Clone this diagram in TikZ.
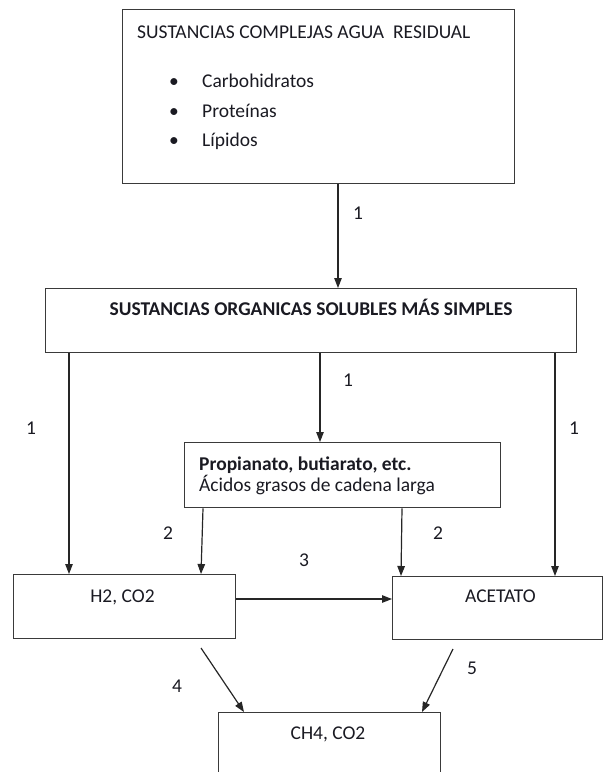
\documentclass[tikz,border=0pt]{standalone}
\usepackage{fontspec}
\setmainfont{Carlito}
\usetikzlibrary{arrows.meta}
\definecolor{boxline}{HTML}{3A3A3A}
\definecolor{arrline}{HTML}{262626}
\definecolor{ink}{HTML}{1A1A22}
\begin{document}
\begin{tikzpicture}[x=1pt,y=-1pt,
  every node/.style={font=\fontsize{19.5}{23}\selectfont, text=ink},
  box/.style={draw=boxline, line width=1.4pt, rectangle, inner sep=0pt, anchor=north west},
  txt/.style={inner sep=0pt},
  lbl/.style={inner sep=0pt, anchor=base},
  arr/.style={draw=arrline, line width=1.2pt, -{Triangle[length=10pt,width=7.5pt]}}
]
\useasboundingbox (0,0) rectangle (603,772);
\clip (0,0) rectangle (603,772);

% boxes
\node[box, minimum width=392pt, minimum height=174pt] (complex) at (122,9) {};
\node[box, minimum width=531pt, minimum height=64pt]  (simple)  at (45,288) {};
\node[box, minimum width=316pt, minimum height=65pt]  (acids)   at (184,442) {};
\node[box, minimum width=222pt, minimum height=64pt]  (h2)      at (13,574) {};
\node[box, minimum width=210pt, minimum height=63pt]  (acetate) at (392,576) {};
\node[box, minimum width=222pt, minimum height=100pt] (ch4)     at (218,712) {};

% box texts
\node[txt, anchor=base west] (tcomplex) at (137,38.5) {SUSTANCIAS COMPLEJAS AGUA\ \ RESIDUAL};
\node[txt, anchor=base] (b1) at (174,87) {•};
\node[txt, anchor=base] (b2) at (174,117) {•};
\node[txt, anchor=base] (b3) at (174,146) {•};
\node[txt, anchor=base west] (i1) at (202,87) {Carbohidratos};
\node[txt, anchor=base west] (i2) at (202,117) {Proteínas};
\node[txt, anchor=base west] (i3) at (202,146) {Lípidos};
\node[txt, anchor=base, font=\fontsize{19.5}{23}\selectfont\bfseries] (tsimple) at (311,315) {SUSTANCIAS ORGANICAS SOLUBLES MÁS SIMPLES};
\node[txt, anchor=base west, font=\fontsize{19.5}{23}\selectfont\bfseries] (tacids1) at (199,470.5) {Propianato, butiarato, etc.};
\node[txt, anchor=base west] (tacids2) at (199,491.5) {Ácidos grasos de cadena larga};
\node[txt, anchor=base] (th2) at (122.5,602.5) {H2, CO2};
\node[txt, anchor=base] (tacetate) at (500.5,602.5) {ACETATO};
\node[txt, anchor=base] (tch4) at (328,739) {CH4, CO2};

% connector positions
\coordinate (xTop) at (338,0);
\coordinate (xLeft) at (69,0);
\coordinate (xMid) at (320,0);
\coordinate (xRight) at (555,0);
\coordinate (xA1) at (203,0);
\coordinate (xA2) at (201,0);
\coordinate (xB1) at (402,0);
\coordinate (xB2) at (401,0);
\coordinate (yHoriz) at (0,599);
\coordinate (s4) at (201,648);
\coordinate (e4) at (244,0);
\coordinate (s5) at (453,649);
\coordinate (e5) at (422,0);

% connectors
\draw[arr] (complex.south -| xTop) -- (simple.north -| xTop);
\draw[arr] (simple.south -| xLeft) -- (h2.north -| xLeft);
\draw[arr] (simple.south -| xMid) -- (acids.north -| xMid);
\draw[arr] (simple.south -| xRight) -- (acetate.north -| xRight);
\draw[arr] (acids.south -| xA1) -- (h2.north -| xA2);
\draw[arr] (acids.south -| xB1) -- (acetate.north -| xB2);
\draw[arr] (h2.east |- yHoriz) -- (acetate.west |- yHoriz);
\draw[arr] (s4) -- (ch4.north -| e4);
\draw[arr] (s5) -- (ch4.north -| e5);

% step labels
\node[lbl] (l1a) at (358,219) {1};
\node[lbl] (l1b) at (31,434) {1};
\node[lbl] (l1c) at (348,386) {1};
\node[lbl] (l1d) at (574,434) {1};
\node[lbl] (l2a) at (168,539) {2};
\node[lbl] (l2b) at (438,539) {2};
\node[lbl] (l3) at (304,566.5) {3};
\node[lbl] (l4) at (177,692.5) {4};
\node[lbl] (l5) at (472,674) {5};
\end{tikzpicture}
\end{document}
